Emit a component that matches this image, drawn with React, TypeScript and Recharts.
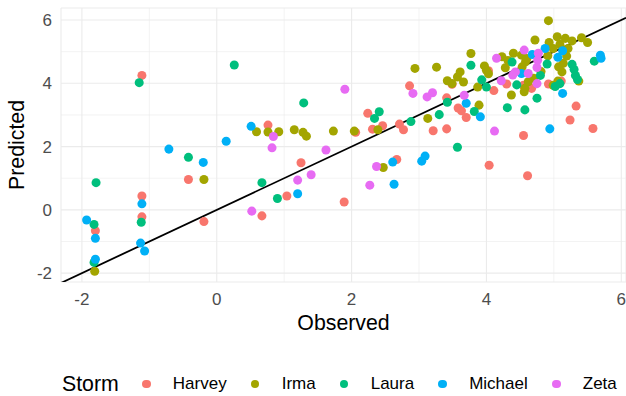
import React from 'react';
import {
  ScatterChart,
  Scatter,
  XAxis,
  YAxis,
  ZAxis,
  CartesianGrid,
  ReferenceLine,
} from 'recharts';

// observed / predicted pairs per storm
const harvey: [number, number][] = [
  [-1.11, 4.25], [-0.42, 0.96], [-0.19, -0.37], [-1.11, 0.44], [-1.11, -0.22], [-1.8, -0.66],
  [0.76, 2.68], [1.25, 1.49], [1.04, 0.44], [0.67, -0.19], [1.89, 0.25], [2.06, 2.45],
  [2.24, 3.05], [2.46, 2.66], [2.31, 2.55], [2.86, 3.92], [2.71, 2.71], [2.77, 2.53],
  [2.67, 1.59], [3.21, 2.5], [3.41, 2.56], [3.58, 3.22], [3.63, 3.13], [3.7, 2.92],
  [3.41, 3.54], [3.49, 3.97], [4.11, 3.77], [4.3, 3.98], [4.03, 4.4], [4.55, 3.94],
  [4.67, 3.84], [4.92, 3.98], [5.11, 4.07], [5.33, 3.28], [5.24, 2.84], [5.58, 2.57],
  [4.55, 2.35], [4.04, 1.41], [4.61, 1.08],
];

const irma: [number, number][] = [
  [-0.19, 0.96], [-1.81, -1.94], [0.59, 2.47], [0.76, 2.46], [0.92, 2.47], [1.15, 2.53],
  [1.28, 2.45], [1.33, 2.33], [1.73, 2.49], [2.04, 2.49], [2.39, 2.53], [2.47, 1.34],
  [2.94, 4.47], [3.13, 2.89], [3.26, 4.51], [3.77, 4.94], [3.42, 4.08], [3.49, 3.99],
  [3.57, 4.2], [3.61, 4.36], [3.66, 4.04], [3.87, 3.88], [3.89, 3.31], [3.97, 4.55],
  [4.0, 4.41], [4.03, 4.3], [4.23, 4.84], [4.28, 4.49], [4.32, 4.72], [4.4, 4.95],
  [4.52, 4.89], [4.58, 4.68], [4.53, 4.52], [4.37, 3.63], [4.56, 3.73], [4.57, 3.84],
  [4.62, 4.05], [4.7, 4.16], [4.81, 4.37], [4.92, 5.98], [4.72, 5.37], [4.93, 5.29],
  [5.05, 5.47], [5.17, 5.42], [5.27, 5.34], [5.09, 5.23], [4.99, 5.1], [5.21, 5.1],
  [5.41, 5.44], [5.5, 5.29], [5.19, 4.86], [5.14, 4.63], [5.07, 4.52], [5.12, 4.36],
  [4.91, 4.87], [5.37, 4.07], [4.99, 3.94], [5.06, 4.07], [4.6, 4.78],
];

const laura: [number, number][] = [
  [-1.15, 4.02], [0.26, 4.58], [-0.42, 1.66], [-1.79, 0.86], [-1.12, -0.39], [-1.82, -0.46],
  [-1.82, -1.66], [1.29, 3.38], [0.67, 0.86], [0.9, 0.36], [2.41, 3.1], [2.34, 2.89],
  [2.88, 2.79], [3.3, 3.01], [3.42, 3.4], [3.82, 3.11], [3.57, 1.98], [4.31, 3.23],
  [4.57, 3.16], [4.75, 3.53], [3.77, 4.57], [3.93, 4.11], [4.0, 3.88], [4.38, 4.67],
  [4.45, 3.95], [4.9, 4.61], [4.8, 4.25], [5.27, 4.6], [5.3, 4.44], [5.32, 4.25],
  [5.35, 4.12], [5.6, 4.7], [5.02, 3.9], [5.09, 3.99],
];

const michael: [number, number][] = [
  [0.14, 2.17], [-0.71, 1.92], [-0.2, 1.5], [-1.11, 0.19], [-1.13, -1.05], [-1.07, -1.3],
  [-1.93, -0.32], [-1.8, -0.9], [-1.8, -1.56], [0.51, 2.64], [1.2, 0.51], [2.61, 1.51],
  [2.63, 0.81], [3.04, 1.54], [3.09, 1.7], [3.7, 3.37], [3.91, 2.94], [4.52, 4.31],
  [4.68, 4.91], [4.87, 5.1], [5.13, 5.03], [5.06, 4.82], [5.69, 4.89], [5.7, 4.79],
  [5.13, 3.68], [4.94, 2.56],
];

const zeta: [number, number][] = [
  [0.84, 2.32], [0.82, 1.96], [1.9, 3.81], [1.62, 1.89], [2.91, 3.68], [3.12, 3.57],
  [3.2, 3.7], [1.2, 0.94], [1.4, 1.11], [0.52, -0.04], [2.37, 1.37], [2.27, 0.78],
  [3.67, 3.62], [4.12, 2.49], [4.15, 4.79], [4.22, 4.08], [4.43, 4.36], [4.39, 4.26],
  [4.62, 4.31], [4.56, 5.05], [4.77, 4.95], [4.76, 4.73], [4.75, 4.5], [4.75, 3.99],
];

const storms = ['Harvey', 'Irma', 'Laura', 'Michael', 'Zeta'];
const stormData = [harvey, irma, laura, michael, zeta];
const majorTicks = [-2, 0, 2, 4, 6];
const minorTicks = [-1, 1, 3, 5];

// ggplot default hue palette
const COLORS = ['#F8766D', '#A3A500', '#00BF7D', '#00B0F6', '#E76BF3'];
const FONT = '"Liberation Sans", Arial, sans-serif';
const GRID = '#EBEBEB';

const X_DOMAIN: [number, number] = [-2.31, 6.07];
const Y_DOMAIN: [number, number] = [-2.28, 6.38];

export default function App() {
  return (
    <div style={{ position: 'absolute', left: 0, top: 0, width: 626, height: 396, background: '#fff', fontFamily: FONT }}>
      <ScatterChart width={626} height={396} margin={{ top: 8, right: 0, bottom: 64, left: 0 }}>
        <CartesianGrid stroke={GRID} strokeWidth={1.1} />
        {minorTicks.map((t) => (
          <ReferenceLine key={'vx' + t} x={t} stroke={GRID} strokeWidth={0.6} />
        ))}
        {minorTicks.map((t) => (
          <ReferenceLine key={'hy' + t} y={t} stroke={GRID} strokeWidth={0.6} />
        ))}
        <XAxis
          type="number"
          dataKey="x"
          domain={X_DOMAIN}
          ticks={majorTicks}
          allowDataOverflow
          axisLine={false}
          tickLine={false}
          tickSize={0}
          tickMargin={11}
          height={50}
          tick={{ fontSize: 17, fill: '#4D4D4D', fontFamily: FONT }}
          label={{ value: 'Observed', position: 'insideBottom', offset: 2, style: { fontSize: 21.3, fill: '#000', fontFamily: FONT } }}
        />
        <YAxis
          type="number"
          dataKey="y"
          domain={Y_DOMAIN}
          ticks={majorTicks}
          allowDataOverflow
          axisLine={false}
          tickLine={false}
          tickSize={0}
          tickMargin={9}
          width={61}
          tick={{ fontSize: 17, fill: '#4D4D4D', fontFamily: FONT }}
          label={{
            value: 'Predicted',
            angle: -90,
            position: 'insideLeft',
            offset: 16,
            style: { fontSize: 21.3, fill: '#000', fontFamily: FONT, textAnchor: 'middle' },
          }}
        />
        <ZAxis type="number" range={[55, 55]} />
        {stormData.map((pts, i) => (
          <Scatter
            key={storms[i]}
            name={storms[i]}
            data={pts.map(([x, y]) => ({ x, y }))}
            fill={COLORS[i]}
            isAnimationActive={false}
          />
        ))}
        <ReferenceLine
          segment={[{ x: -2.31, y: -2.31 }, { x: 6.07, y: 6.07 }]}
          stroke="#000"
          strokeWidth={1.8}
          ifOverflow="hidden"
        />
      </ScatterChart>
      <div
        style={{
          position: 'absolute',
          left: 62,
          top: 372,
          display: 'flex',
          alignItems: 'center',
          height: 24,
          whiteSpace: 'nowrap',
        }}
      >
        <span style={{ fontSize: 21.3, marginRight: 19 }}>Storm</span>
        {storms.map((s, i) => (
          <span key={s} style={{ display: 'flex', alignItems: 'center', marginRight: i < storms.length - 1 ? 20 : 0 }}>
            <span style={{ width: 17, display: 'flex', justifyContent: 'center' }}>
              <span style={{ width: 8.5, height: 8.5, borderRadius: '50%', background: COLORS[i] }} />
            </span>
            <span style={{ fontSize: 17, marginLeft: 18 }}>{s}</span>
          </span>
        ))}
      </div>
    </div>
  );
}
